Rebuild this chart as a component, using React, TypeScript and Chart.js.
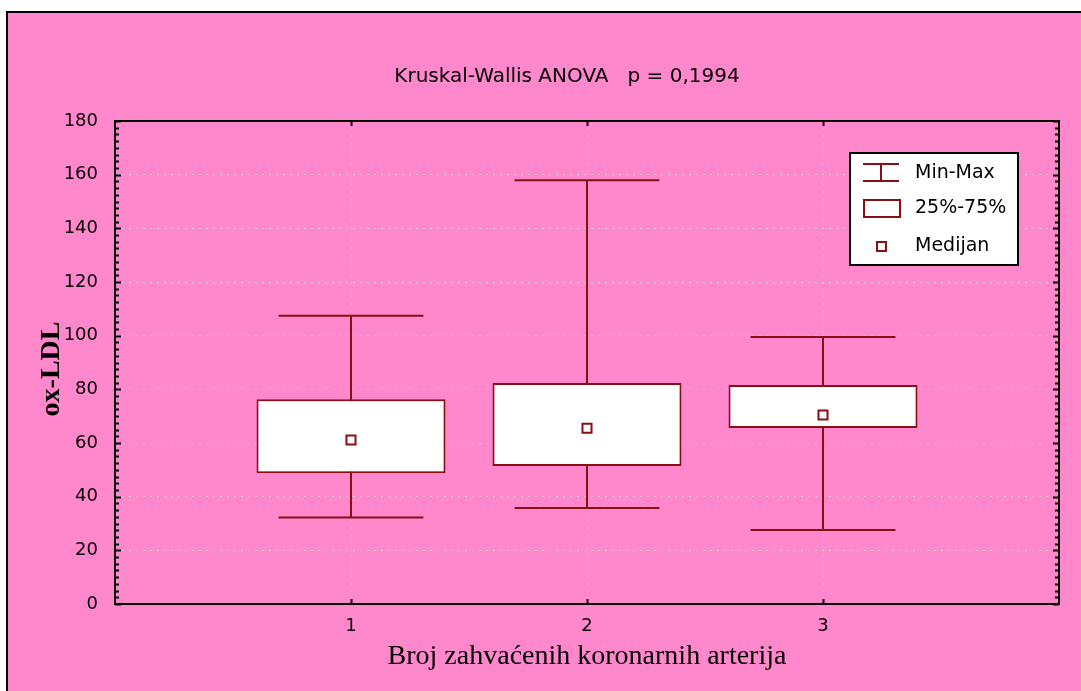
import React, { useEffect, useRef } from 'react';
import { Chart, registerables } from 'chart.js';

Chart.register(...registerables);

// ---- data ----
const categories = [1, 2, 3];
const categoryLabels = ['1', '2', '3'];
const minValues = [32.2, 35.8, 27.6];
const q1Values = [48.7, 51.4, 65.6];
const medianValues = [61.1, 65.5, 70.4];
const q3Values = [76.3, 82.4, 81.6];
const maxValues = [107.4, 157.9, 99.5];
const yTickValues = [0, 20, 40, 60, 80, 100, 120, 140, 160, 180];

const titleText = 'Kruskal-Wallis ANOVA   p = 0,1994';
const xTitleText = 'Broj zahvaćenih koronarnih arterija';
const yTitleText = 'ox-LDL';
const legendLabels = ['Min-Max', '25%-75%', 'Medijan'];

// ---- style ----
const PINK = 'rgb(255,136,204)';
const DARK = '#8a0f14';
const GRID = 'rgb(205,205,205)';
const SANS = '"DejaVu Sans"';
const SERIF = '"Liberation Serif"';
const W = 1081;
const H = 691;
const CAP_WIDTH = 0.614; // in x units
const MINOR_STEP = 2.5;

const decorPlugin = {
  id: 'decor',
  beforeDraw(chart: any) {
    const ctx = chart.ctx;
    ctx.save();
    ctx.fillStyle = '#ffffff';
    ctx.fillRect(0, 0, W, H);
    ctx.fillStyle = PINK;
    ctx.fillRect(6, 11, W, H);
    ctx.fillStyle = '#000';
    ctx.fillRect(6, 11, W, 2);
    ctx.fillRect(6, 11, 2, H);
    ctx.restore();
  },
  beforeDatasetsDraw(chart: any) {
    const ctx = chart.ctx;
    const xs = chart.scales.x;
    const ys = chart.scales.y;
    ctx.save();
    ctx.strokeStyle = DARK;
    ctx.lineWidth = 2;
    categories.forEach((c, i) => {
      const x = Math.round(xs.getPixelForValue(c));
      const yMin = ys.getPixelForValue(minValues[i]);
      const yMax = ys.getPixelForValue(maxValues[i]);
      const half = xs.getPixelForValue(c + CAP_WIDTH / 2) - xs.getPixelForValue(c);
      ctx.beginPath();
      ctx.moveTo(x, yMin);
      ctx.lineTo(x, yMax);
      ctx.moveTo(x - half, yMin);
      ctx.lineTo(x + half, yMin);
      ctx.moveTo(x - half, yMax);
      ctx.lineTo(x + half, yMax);
      ctx.stroke();
    });
    ctx.restore();
  },
  afterDatasetsDraw(chart: any) {
    const ctx = chart.ctx;
    const { left, right, top, bottom } = chart.chartArea;
    const xs = chart.scales.x;
    const ys = chart.scales.y;
    ctx.save();
    ctx.strokeStyle = '#000';
    ctx.lineWidth = 2;
    ctx.strokeRect(left, top, right - left, bottom - top);
    ctx.beginPath();
    for (let v = ys.min; v <= ys.max + 1e-6; v += MINOR_STEP) {
      const y = Math.round(ys.getPixelForValue(v)) + 0.5;
      const major = Math.abs(v % 20) < 1e-6;
      const len = major ? 6 : 4;
      ctx.moveTo(left, y);
      ctx.lineTo(left + len, y);
      ctx.moveTo(right, y);
      ctx.lineTo(right - len, y);
    }
    ctx.stroke();
    ctx.beginPath();
    categories.forEach((c) => {
      const x = Math.round(xs.getPixelForValue(c)) + 0.5;
      ctx.moveTo(x, bottom);
      ctx.lineTo(x, bottom - 5);
      ctx.moveTo(x, top);
      ctx.lineTo(x, top + 5);
    });
    ctx.stroke();
    ctx.restore();
  },
  afterDraw(chart: any) {
    const ctx = chart.ctx;
    const { left, right } = chart.chartArea;
    ctx.save();
    ctx.fillStyle = '#000';
    // title
    ctx.font = `20px ${SANS}`;
    ctx.textAlign = 'center';
    ctx.textBaseline = 'middle';
    ctx.fillText(titleText, 567, 77);
    // x title
    ctx.font = `28px ${SERIF}`;
    ctx.textBaseline = 'alphabetic';
    ctx.fillText(xTitleText, (left + right) / 2, 664);
    // y title
    ctx.save();
    ctx.translate(59, 369);
    ctx.rotate(-Math.PI / 2);
    ctx.font = `bold 28px ${SERIF}`;
    ctx.textAlign = 'center';
    ctx.textBaseline = 'alphabetic';
    ctx.fillText(yTitleText, 0, 0);
    ctx.restore();

    // legend
    ctx.fillStyle = '#fff';
    ctx.fillRect(850, 153, 168, 112);
    ctx.strokeStyle = '#000';
    ctx.lineWidth = 2;
    ctx.strokeRect(850, 153, 168, 112);
    ctx.strokeStyle = DARK;
    ctx.lineWidth = 2;
    ctx.beginPath();
    ctx.moveTo(863, 164);
    ctx.lineTo(899, 164);
    ctx.moveTo(863, 181);
    ctx.lineTo(899, 181);
    ctx.moveTo(881, 164);
    ctx.lineTo(881, 181);
    ctx.stroke();
    ctx.strokeRect(864, 200, 36, 17);
    ctx.strokeRect(877, 242, 9, 9);
    ctx.fillStyle = '#000';
    ctx.font = `19px ${SANS}`;
    ctx.textAlign = 'left';
    ctx.textBaseline = 'middle';
    ctx.fillText(legendLabels[0], 915, 173);
    ctx.fillText(legendLabels[1], 915, 208);
    ctx.fillText(legendLabels[2], 915, 246);
    ctx.restore();
  },
};

export default function App() {
  const ref = useRef<HTMLCanvasElement | null>(null);
  useEffect(() => {
    if (!ref.current) return;
    Chart.defaults.font.family = SANS;
    const chart = new Chart(ref.current, {
      type: 'bar',
      data: {
        datasets: [
          {
            type: 'bar',
            label: legendLabels[1],
            data: categories.map((c, i) => ({ x: c, y: [q1Values[i], q3Values[i]] })) as any,
            backgroundColor: '#ffffff',
            borderColor: DARK,
            borderWidth: 2,
            borderSkipped: false,
            barThickness: 189,
            inflateAmount: 0,
            order: 2,
          } as any,
          {
            type: 'scatter',
            label: legendLabels[2],
            data: categories.map((c, i) => ({ x: c, y: medianValues[i] })),
            pointStyle: 'rect',
            pointRadius: 6.4,
            backgroundColor: '#ffffff',
            borderColor: DARK,
            borderWidth: 2,
            order: 1,
          } as any,
        ],
      },
      options: {
        animation: false,
        responsive: false,
        maintainAspectRatio: false,
        layout: { padding: { left: 0, top: 121, right: 22, bottom: 0 } },
        plugins: {
          legend: { display: false },
          title: { display: false },
          tooltip: { enabled: false },
        },
        scales: {
          x: {
            type: 'linear',
            min: 0,
            max: 4,
            offset: false,
            afterBuildTicks: (s: any) => {
              s.ticks = categories.map((v) => ({ value: v }));
            },
            afterFit: (s: any) => {
              s.height = H - 604;
            },
            grid: { color: GRID, lineWidth: 1, drawTicks: false, offset: false },
            border: { display: false, dash: [2, 5] },
            ticks: {
              color: '#000',
              font: { size: 18, family: SANS },
              padding: 12,
              callback: (v: any) => categoryLabels[categories.indexOf(Number(v))] ?? '',
            },
          },
          y: {
            type: 'linear',
            min: 0,
            max: 180,
            afterBuildTicks: (s: any) => {
              s.ticks = yTickValues.map((v) => ({ value: v }));
            },
            afterFit: (s: any) => {
              s.width = 115;
            },
            grid: { color: GRID, lineWidth: 1, drawTicks: false },
            border: { display: false, dash: [2, 5] },
            ticks: {
              color: '#000',
              font: { size: 18, family: SANS },
              padding: 17,
            },
          },
        },
      } as any,
      plugins: [decorPlugin],
    });
    return () => chart.destroy();
  }, []);
  return (
    <div style={{ position: 'absolute', left: 0, top: 0, width: W, height: H }}>
      <canvas ref={ref} width={W} height={H} style={{ width: W, height: H, display: 'block' }} />
    </div>
  );
}
